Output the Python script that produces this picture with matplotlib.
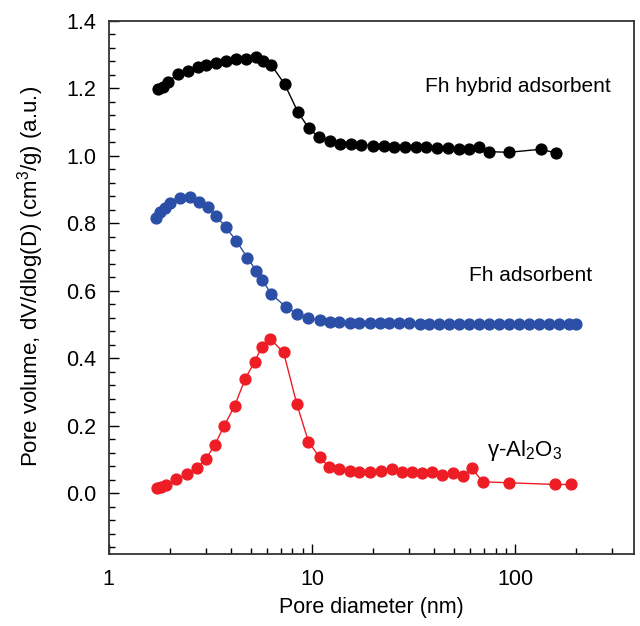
import matplotlib
matplotlib.use("Agg")
import matplotlib.pyplot as plt
from matplotlib.ticker import MultipleLocator, LogLocator, FixedLocator, NullFormatter
import numpy as np

plt.rcParams['font.family'] = ['Liberation Sans', 'DejaVu Sans']
plt.rcParams['mathtext.fontset'] = 'custom'
plt.rcParams['mathtext.rm'] = 'Liberation Sans'
plt.rcParams['mathtext.it'] = 'Liberation Sans'

# Fh hybrid adsorbent
hyb_d = [1.75, 1.85, 1.96, 2.19, 2.45, 2.75, 3.02, 3.38, 3.76, 4.24, 4.75, 5.28, 5.73, 6.3,
         7.33, 8.51, 9.64, 10.8, 12.2, 13.7, 15.6, 17.5, 19.9, 22.7, 25.4, 28.8, 32.5, 36.4,
         41.0, 46.5, 53.0, 59.4, 66.5, 74.5, 92.7, 133.6, 158.5]
hyb_v = [1.197, 1.204, 1.219, 1.242, 1.252, 1.262, 1.269, 1.276, 1.281, 1.286, 1.287, 1.293,
         1.281, 1.269, 1.212, 1.130, 1.081, 1.055, 1.044, 1.035, 1.034, 1.032, 1.030, 1.029,
         1.027, 1.027, 1.025, 1.025, 1.023, 1.022, 1.020, 1.020, 1.027, 1.012, 1.010, 1.019, 1.008]

# Fh adsorbent
fh_d = [1.70, 1.78, 1.88, 2.01, 2.23, 2.50, 2.78, 3.08, 3.38, 3.76, 4.24, 4.80, 5.32, 5.69,
        6.30, 7.41, 8.46, 9.53, 10.9, 12.2, 13.6, 15.3, 17.1, 19.2, 21.5, 24.0, 26.9, 30.1,
        33.8, 37.8, 42.3, 47.4, 53.1, 59.4, 66.5, 74.5, 83.4, 93.5, 104.6, 117, 131, 147,
        164, 184, 200]
fh_v = [0.816, 0.834, 0.844, 0.859, 0.874, 0.879, 0.864, 0.847, 0.821, 0.788, 0.748, 0.698,
        0.659, 0.632, 0.590, 0.553, 0.531, 0.518, 0.513, 0.508, 0.506, 0.505, 0.505, 0.504,
        0.504, 0.503, 0.503, 0.503, 0.502, 0.502, 0.502, 0.502, 0.501, 0.501, 0.501, 0.501,
        0.501, 0.500, 0.500, 0.500, 0.500, 0.500, 0.500, 0.500, 0.500]

# gamma-Al2O3
al_d = [1.73, 1.81, 1.92, 2.15, 2.43, 2.72, 3.0, 3.32, 3.69, 4.16, 4.69, 5.22, 5.67, 6.23,
        7.25, 8.42, 9.6, 10.9, 12.1, 13.5, 15.3, 17.1, 19.3, 21.9, 24.8, 27.8, 31.2, 34.8,
        39.0, 43.7, 49.4, 55.1, 61.3, 69.0, 93.5, 157, 189]
al_v = [0.015, 0.019, 0.024, 0.041, 0.057, 0.076, 0.101, 0.143, 0.199, 0.259, 0.339, 0.390,
        0.434, 0.457, 0.417, 0.264, 0.153, 0.106, 0.079, 0.071, 0.066, 0.064, 0.064, 0.066,
        0.071, 0.064, 0.064, 0.059, 0.064, 0.054, 0.061, 0.051, 0.074, 0.034, 0.031, 0.026, 0.026]

fig = plt.figure(figsize=(6.4, 6.26), dpi=100)
ax = fig.add_axes([0.170, 0.115, 0.821, 0.852])

ms = 7.8
ax.plot(hyb_d, hyb_v, '-o', color='black', ms=ms, lw=1.0)
ax.plot(fh_d, fh_v, '-o', color='#2b4fa6', ms=ms, lw=1.0)
ax.plot(al_d, al_v, '-o', color='#ee1c24', ms=ms, lw=1.0)

ax.set_xscale('log')
ax.set_xlim(1, 385)
ax.set_ylim(-0.18, 1.4)

ax.xaxis.set_major_locator(FixedLocator([1, 10, 100]))
ax.set_xticklabels(['1', '10', '100'])
ax.xaxis.set_minor_locator(LogLocator(base=10, subs=np.arange(2, 10)))
ax.xaxis.set_minor_formatter(NullFormatter())
ax.yaxis.set_major_locator(FixedLocator([0.0, 0.2, 0.4, 0.6, 0.8, 1.0, 1.2, 1.4]))
ax.set_yticklabels(['0.0', '0.2', '0.4', '0.6', '0.8', '1.0', '1.2', '1.4'])
ax.yaxis.set_minor_locator(MultipleLocator(0.04))

ax.tick_params(which='both', direction='in', top=False, right=False, labelsize=15.5)
ax.tick_params(axis='x', which='major', pad=11)
ax.tick_params(axis='y', which='major', pad=9)
ax.tick_params(which='major', length=7, width=1.0)
ax.tick_params(which='minor', length=4, width=1.0)
for s in ax.spines.values():
    s.set_linewidth(1.3)
    s.set_color('#333333')

ax.set_xlabel('Pore diameter (nm)', fontsize=15.5, labelpad=5)
ax.set_ylabel('Pore volume, dV/dlog(D) (cm$^{3}$/g) (a.u.)', fontsize=16, labelpad=8)
ax.yaxis.set_label_coords(-0.12, 0.52)

ax.text(296, 1.204, 'Fh hybrid adsorbent', fontsize=15, ha='right', va='center')
ax.text(239, 0.646, 'Fh adsorbent', fontsize=15, ha='right', va='center')
ax.text(170, 0.128, 'γ-Al$_{2}$O$_{3}$', fontsize=16, ha='right', va='center')

fig.savefig('out.png', dpi=100)
